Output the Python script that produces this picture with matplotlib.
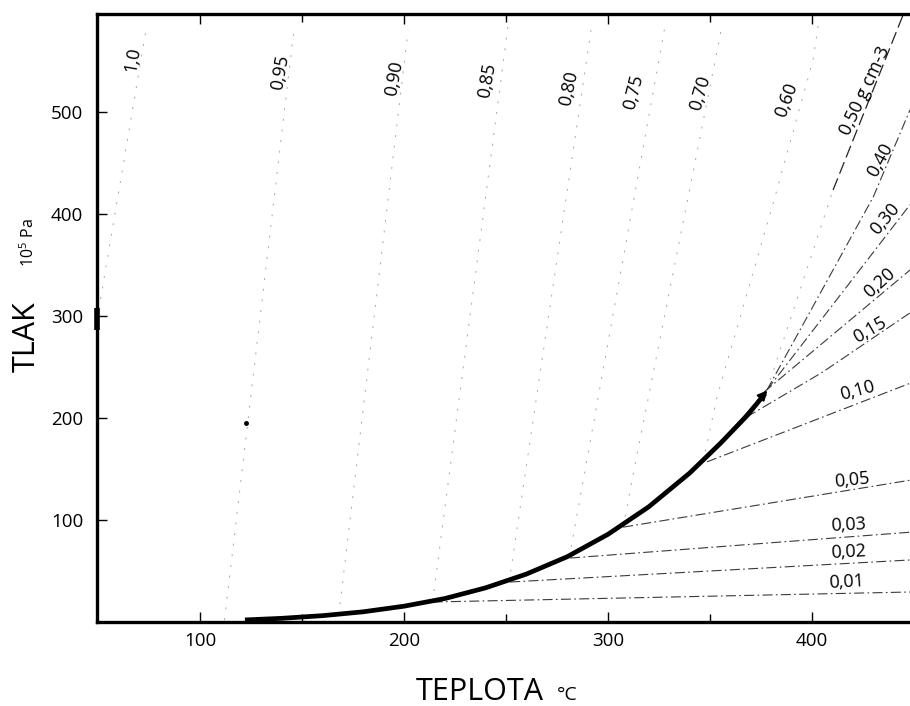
import matplotlib
matplotlib.use("Agg")
import matplotlib.pyplot as plt

plt.rcParams['font.family'] = ['Open Sans', 'DejaVu Sans']

# ── Data ────────────────────────────────────────────────────────────────────
# saturation curve (teplota °C, tlak 10^5 Pa)
T_SAT = [122, 140, 160, 180, 200, 220, 240, 260, 280, 300, 320, 340, 355, 368, 377]
P_SAT = [2, 3.6, 6.2, 10, 15.5, 23, 33.5, 47, 64, 86, 113, 146, 175, 202, 224]

# isochores on the liquid side
LIQ_LABELS = ['1,0', '0,95', '0,90', '0,85', '0,80', '0,75', '0,70', '0,60']
LIQ_T = [[49.5, 73.5], [112, 146], [168, 202], [214, 251], [251.5, 292],
         [281, 328], [307.4, 312.7, 345.1, 355.9],
         [346.6, 353.4, 381.4, 400.5, 403]]
LIQ_P = [[296, 580], [2, 580], [7, 580], [20, 585], [39, 585],
         [63, 585], [93, 149, 475.5, 585],
         [157, 220.6, 413.7, 551, 585]]
LIQ_LAB_T = [67, 139.5, 195, 241, 281, 312.7, 345.1, 387.3]
LIQ_LAB_P = [551, 539, 533, 531, 523.5, 519.6, 518.6, 511.8]
LIQ_LAB_ROT = [80, 80, 80, 80, 78, 76, 74, 70]

# isochores starting near the critical point / vapour side
VAP_LABELS = ['0,50 g cm-3', '0,40', '0,30', '0,20', '0,15', '0,10',
              '0,05', '0,03', '0,02', '0,01']
VAP_T = [[410.3, 444.6], [377.9, 430, 448], [377.9, 448], [376.5, 448],
         [368, 404.9, 448], [348.5, 448], [307.4, 448], [281.4, 448],
         [252, 448], [214, 448]]
VAP_P = [[423.5, 595], [227.5, 416.7, 502], [227.5, 409], [225.5, 345],
         [201, 244.6, 303], [157, 234], [93, 139], [62.7, 88],
         [39.2, 60.8], [19.6, 29.4]]
VAP_LAB_T = [426, 433.3, 435.8, 433.3, 428.4, 422, 419.6, 417.6, 417.6, 416.7]
VAP_LAB_P = [520.6, 453, 395, 332, 286, 227, 139, 95, 69, 39.5]
VAP_LAB_ROT = [65, 62, 50, 42, 30, 15, 6, 3, 3, 3]

# faint lower part of the 0,50 line
T_050_LOW = [377.9, 410.3]
P_050_LOW = [227.5, 423.5]

# dark specks of the print
SPECK_T = [122.5]
SPECK_P = [195]
WALL_P = [286, 308]

X_MAJOR = [100, 200, 300, 400]
X_MINOR = [150, 250, 350]
Y_MAJOR = [100, 200, 300, 400, 500]

# ── Figure ──────────────────────────────────────────────────────────────────
fig = plt.figure(figsize=(9.1, 7.06), dpi=100, facecolor='white')
ax = fig.add_axes([97 / 910, 84 / 706, 813 / 910, 608 / 706])
ax.set_xlim(49.5, 448)
ax.set_ylim(0, 596)

liq_style = dict(color='#a8a8a8', lw=0.7, ls=(0, (2, 9)))
vap_style = dict(color='#3a3a3a', lw=0.8, ls=(0, (9, 3, 1.5, 3)))

for t, p in zip(LIQ_T, LIQ_P):
    ax.plot(t, p, **liq_style)
for lab, t, p, r in zip(LIQ_LABELS, LIQ_LAB_T, LIQ_LAB_P, LIQ_LAB_ROT):
    ax.text(t, p, lab, rotation=r, ha='center', va='center', fontsize=13)

ax.plot(T_050_LOW, P_050_LOW, **liq_style)
for i, (t, p) in enumerate(zip(VAP_T, VAP_P)):
    if i == 0:
        ax.plot(t, p, color='#222222', lw=0.9, ls=(0, (10, 4)))
    else:
        ax.plot(t, p, **vap_style)
for lab, t, p, r in zip(VAP_LABELS, VAP_LAB_T, VAP_LAB_P, VAP_LAB_ROT):
    ax.text(t, p, lab, rotation=r, ha='center', va='center', fontsize=13,
            rotation_mode='anchor')

ax.plot(SPECK_T, SPECK_P, 'o', color='black', ms=2.5)
ax.plot([49.5, 49.5], WALL_P, color='black', lw=4, solid_capstyle='butt',
        clip_on=False)

# saturation curve
ax.plot(T_SAT, P_SAT, color='black', lw=3.4, solid_capstyle='butt', zorder=5)
ax.annotate('', xy=(T_SAT[-1] + 2, P_SAT[-1] + 5), xytext=(T_SAT[-3], P_SAT[-3]),
            arrowprops=dict(arrowstyle='-|>', color='black', lw=1.5,
                            mutation_scale=14), zorder=6)

# ── Axes styling ────────────────────────────────────────────────────────────
for side in ['left', 'bottom', 'top']:
    ax.spines[side].set_linewidth(2.4)
ax.spines['right'].set_visible(False)

ax.set_xticks(X_MAJOR)
ax.set_xticks(X_MINOR, minor=True)
ax.set_yticks(Y_MAJOR)
ax.tick_params(axis='both', which='both', direction='in', width=1,
               top=True, labelsize=13.5)
ax.tick_params(axis='both', which='major', length=7)
ax.tick_params(axis='both', which='minor', length=6)
ax.tick_params(axis='x', pad=7)
ax.tick_params(axis='y', pad=10)

fig.text(480 / 910, 6 / 706, 'TEPLOTA', fontsize=22, ha='center', va='baseline')
fig.text(567 / 910, 6 / 706, '°C', fontsize=14, ha='center', va='baseline')
fig.text(27 / 910, 1 - 337 / 706, 'TLAK', fontsize=22, rotation=90,
         ha='center', va='center')
fig.text(29 / 910, 1 - 243 / 706, r'10$^{\mathregular{5}}$ Pa', fontsize=11.5,
         rotation=90, ha='center', va='center')

fig.savefig('out.png', dpi=100, facecolor='white')
